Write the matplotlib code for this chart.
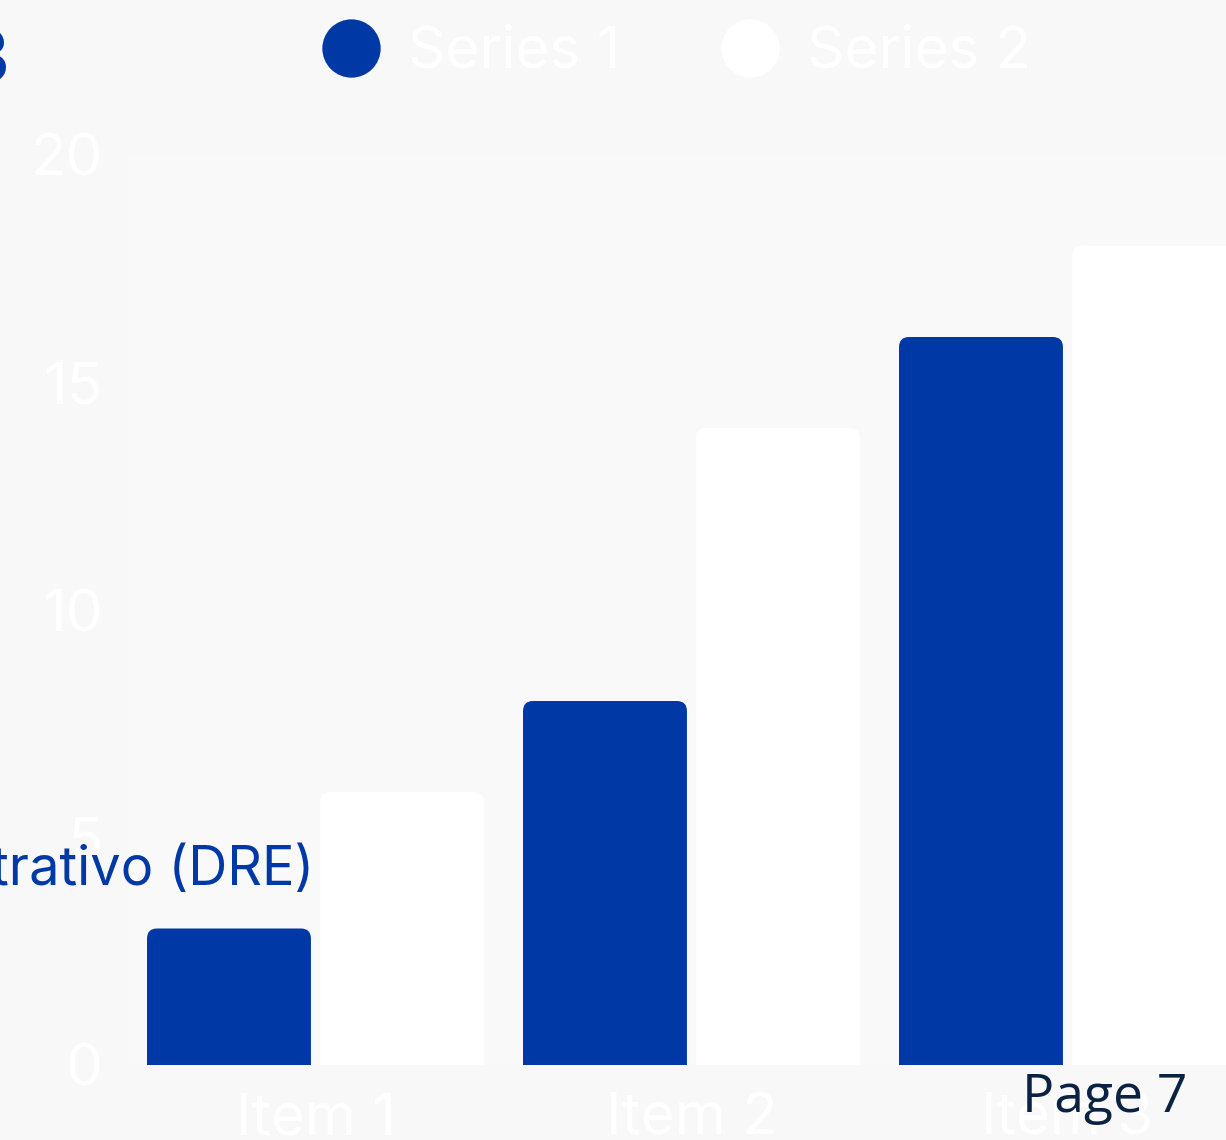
import matplotlib
matplotlib.use("Agg")
import matplotlib.pyplot as plt
from matplotlib.patches import FancyBboxPatch
from matplotlib.lines import Line2D
import numpy as np

categories = ["Item 1", "Item 2", "Item 3"]
series1 = [3, 8, 16]
series2 = [6, 14, 18]
series_names = ["Series 1", "Series 2"]
yticks = [0, 5, 10, 15, 20]

BLUE = "#0039A6"
WHITE = "#FFFFFF"
BG = "#F8F8F8"
FONT = ["Inter", "DejaVu Sans"]

W, H = 1226, 1140
fig = plt.figure(figsize=(W / 100, H / 100), dpi=100)
fig.patch.set_facecolor(BG)

left_px, bottom_px, width_px, height_px = 127.5, 75, 1128, 910
ax = fig.add_axes([left_px / W, bottom_px / H, width_px / W, height_px / H])
ax.set_facecolor("#F9F9F9")
ax.set_xlim(-0.5, 2.5)
ax.set_ylim(0, 20)

x = np.arange(len(categories))
bw = 0.436
off = 0.2301
b1 = ax.bar(x - off, series1, width=bw, color=BLUE)
b2 = ax.bar(x + off, series2, width=bw, color=WHITE)

# rounded tops
px_x = width_px / 3.0
px_y = height_px / 20.0
r_px = 10
aspect = px_x / px_y
for cont, col in ((b1, BLUE), (b2, WHITE)):
    for rect in cont.patches:
        rect.set_visible(False)
        x0 = rect.get_x()
        w = rect.get_width()
        h = rect.get_height()
        patch = FancyBboxPatch((x0, -1), w, h + 1,
                               boxstyle=f"round,pad=0,rounding_size={r_px / px_x}",
                               mutation_aspect=aspect, facecolor=col,
                               edgecolor="none", linewidth=0)
        ax.add_patch(patch)

for s in ax.spines.values():
    s.set_visible(False)
ax.set_xticks(x)
ax.set_xticklabels(categories)
ax.set_yticks(yticks)
ax.tick_params(axis="both", length=0, colors=WHITE, labelsize=42)
ax.tick_params(axis="x", pad=20)
ax.tick_params(axis="y", pad=18)
for lab in ax.get_xticklabels() + ax.get_yticklabels():
    lab.set_family(FONT)
    lab.set_color(WHITE)

handles = [Line2D([], [], linestyle="none", marker="o", markersize=42,
                  markerfacecolor=c, markeredgecolor="none")
           for c in (BLUE, WHITE)]
leg = fig.legend(handles, series_names, loc="center left",
                 bbox_to_anchor=(322 / W, 1 - 53 / H), ncol=2, frameon=False,
                 prop={"family": FONT, "size": 42}, handlelength=1.0,
                 handletextpad=0.48, columnspacing=1.72, borderpad=0,
                 borderaxespad=0)
for t in leg.get_texts():
    t.set_color(WHITE)

fig.text(314 / W, 1 - 885 / H, "Demonstrativo (DRE)", ha="right",
         va="baseline", color=BLUE, fontsize=39, family=FONT)
fig.text(9 / W, 1 - 83 / H, "3", ha="right", va="baseline", color=BLUE,
         fontsize=54, fontweight="bold", family=FONT)
fig.text(1022 / W, 1 - 1112 / H, "Page 7", ha="left", va="baseline",
         color="#0A2342", fontsize=38.5, family=["Open Sans", "DejaVu Sans"])

fig.savefig("out.png", dpi=100, facecolor=BG)
